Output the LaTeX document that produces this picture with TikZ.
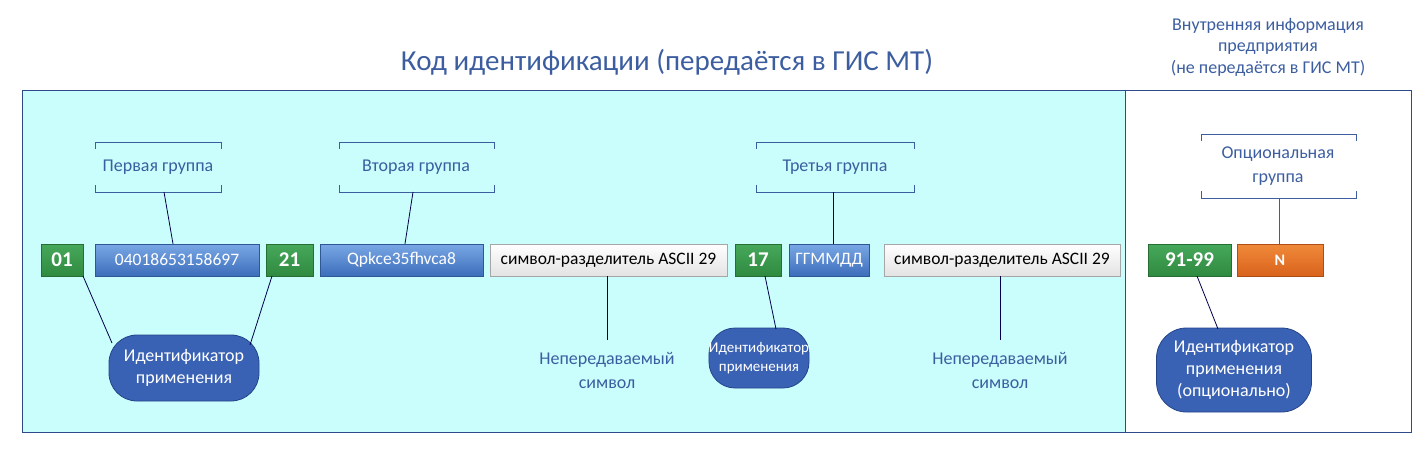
\documentclass[tikz,border=0pt]{standalone}
\usepackage{fontspec}
\setmainfont{Carlito}
\definecolor{tcol}{HTML}{3C5EA0}
\definecolor{cyanbg}{HTML}{C9FEFC}
\definecolor{gtop}{HTML}{46A85A}
\definecolor{gbot}{HTML}{2F8A40}
\definecolor{btop}{HTML}{7AA8E6}
\definecolor{bbot}{HTML}{3C6DBA}
\definecolor{otop}{HTML}{F08A3A}
\definecolor{obot}{HTML}{D9621C}
\definecolor{oval}{HTML}{3A62B4}
\definecolor{ovald}{HTML}{24448A}
\definecolor{frame}{HTML}{2F4A8A}
\begin{document}
\begin{tikzpicture}[x=1pt,y=-1pt,
 grn/.style={draw=gbot!80!black, top color=gtop, bottom color=gbot, text=white, font=\bfseries\fontsize{21}{22}\selectfont, minimum height=32, inner sep=0},
 blu/.style={draw=bbot!80!black, top color=btop, bottom color=bbot, text=white, font=\fontsize{17.5}{18}\selectfont, minimum height=32, inner sep=0},
 gry/.style={draw=gray!70, top color=white, bottom color=gray!22, text=black, font=\fontsize{17.5}{18}\selectfont, minimum height=32, inner sep=0},
 org/.style={draw=obot!80!black, top color=otop, bottom color=obot, text=white, font=\bfseries\fontsize{16}{16}\selectfont, minimum height=32, inner sep=0},
 ova/.style={draw=ovald, thick, fill=oval, text=white, font=\fontsize{18}{22}\selectfont, align=center, rounded corners=28, inner sep=0},
 lbl/.style={text=tcol, font=\fontsize{18}{19}\selectfont, align=center},
 ln/.style={draw=black!70!blue, thick}]
\useasboundingbox (0,0) rectangle (1418,457);
\node[text=tcol,font=\fontsize{29}{30}\selectfont] (title) at (667,62) {Код идентификации (передаётся в ГИС МТ)};
\node[text=tcol,font=\fontsize{18}{21.5}\selectfont,align=center] (rt) at (1268,47) {Внутренняя информация\\предприятия\\(не передаётся в ГИС МТ)};
\draw[draw=frame, thick, fill=cyanbg] (22,90) rectangle (1125,432);
\draw[draw=frame, thick] (1125,90) rectangle (1411,432);
% boxes
\node[grn,minimum width=42] (a01) at (62,260) {01};
\node[blu,minimum width=164] (gtin) at (177,260) {04018653158697};
\node[grn,minimum width=47] (a21) at (289.5,260) {21};
\node[blu,minimum width=163] (ser) at (401.5,260) {Qpkce35fhvca8};
\node[gry,minimum width=237] (sep1) at (608.5,260) {символ-разделитель ASCII 29};
\node[grn,minimum width=46] (a17) at (758,260) {17};
\node[blu,minimum width=80] (date) at (829,260) {ГГММДД};
\node[gry,minimum width=236] (sep2) at (1002,260) {символ-разделитель ASCII 29};
\node[grn,minimum width=83] (a91) at (1189.5,260) {91-99};
\node[org,minimum width=86] (nn) at (1280,260) {N};
% brackets
\foreach \xa/\xb/\ya/\yb/\nm in {95/221/142/192/b1, 339/494/142/192/b2, 756/914/142/192/b3, 1201/1356/134/198/b4}{
 \draw[draw=tcol,thick] (\xa,\ya+7) -- (\xa,\ya) -- (\xb,\ya) -- (\xb,\ya+7);
 \draw[draw=tcol,thick] (\xa,\yb-7) -- (\xa,\yb) -- (\xb,\yb) -- (\xb,\yb-7);
 \coordinate (\nm) at ({(\xa+\xb)/2},\yb);
}
\node[lbl] (g1) at (158,167) {Первая группа};
\node[lbl] (g2) at (416,167) {Вторая группа};
\node[lbl] (g3) at (835,167) {Третья группа};
\node[lbl,font=\fontsize{18}{24}\selectfont] (g4) at (1278,166) {Опциональная\\группа};
\draw[ln] (164,192) -- (gtin.north -| 173,0);
\draw[ln] (413,192) -- (ser.north -| 405,0);
\draw[ln] (833,192) -- (833,244);
\draw[draw=tcol,thick] (1279,198) -- (nn.north -| 1279,0);
% ovals
\node[ova,minimum width=150,minimum height=66] (o1) at (184,368) {Идентификатор\\применения};
\node[ova,minimum width=98,minimum height=60,rounded corners=26,font=\fontsize{15}{19}\selectfont] (o2) at (759,358) {Идентификатор\\применения};
\node[ova,minimum width=155,minimum height=84,rounded corners=30] (o3) at (1234,370) {Идентификатор\\применения\\(опционально)};
\draw[ln] (83,276) -- (112,343);
\draw[ln] (272,276) -- (250,345);
\draw[ln] (765,276) -- (776,329);
\draw[ln] (1197,276) -- (1218,329);
% non-transmitted
\node[lbl,font=\fontsize{18}{24}\selectfont] (n1) at (607,370) {Непередаваемый\\символ};
\node[lbl,font=\fontsize{18}{24}\selectfont] (n2) at (1000,370) {Непередаваемый\\символ};
\draw[ln] (sep1.south -| 607,0) -- (607,340);
\draw[ln] (sep2.south -| 1000,0) -- (1000,340);
\end{tikzpicture}
\end{document}
